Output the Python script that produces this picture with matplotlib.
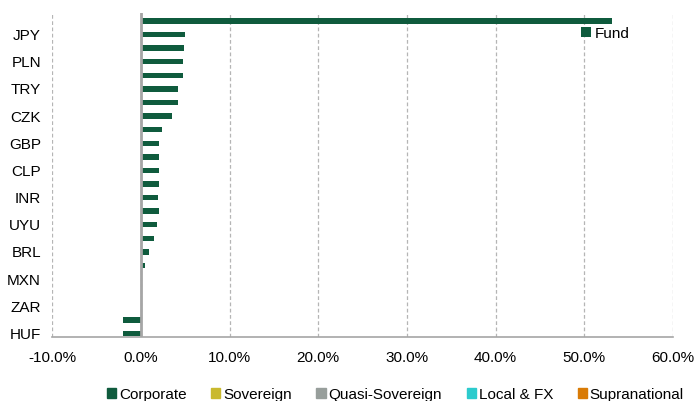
import numpy as np
import matplotlib
matplotlib.use('Agg')
from matplotlib import pyplot as plt
from matplotlib.patches import Patch

plt.rcParams['font.family'] = ['Liberation Sans', 'DejaVu Sans']

# 24 rows, only every other one carries a visible label
labels = ['', 'JPY', '', 'PLN', '', 'TRY', '', 'CZK', '', 'GBP', '', 'CLP',
          '', 'INR', '', 'UYU', '', 'BRL', '', 'MXN', '', 'ZAR', '', 'HUF']
fund = [53.1, 5.0, 4.85, 4.7, 4.7, 4.2, 4.2, 3.5, 2.4, 2.0, 2.0, 2.0,
        2.0, 1.95, 2.0, 1.8, 1.45, 0.95, 0.5, 0.1, 0.05, 0.02, -2.0, -2.0]

legend_names = ['Corporate', 'Sovereign', 'Quasi-Sovereign', 'Local & FX', 'Supranational']
legend_colors = ['#0f5b3d', '#c9b92e', '#979e9b', '#2ccbcd', '#d97b06']

green = '#0f5b3d'
fs = 11

fig = plt.figure(figsize=(6.96, 4.01), dpi=100)
ax = fig.add_axes([0.075, 0.16, 0.892, 0.808])

y = np.arange(len(fund))
ax.barh(y, fund, height=0.4, color=green, label='Fund', zorder=3)

ax.set_xlim(-10, 60)
ax.set_ylim(23.25, -0.6)
ax.set_xticks(np.arange(-10, 61, 10))
ax.set_xticklabels(['%.1f%%' % v for v in np.arange(-10, 61, 10)], fontsize=fs)
ax.set_yticks(y)
ax.set_yticklabels(labels, fontsize=fs)
ax.tick_params(length=0, pad=10)
ax.tick_params(axis='y', pad=8)

ax.grid(axis='x', linestyle=(0, (3, 2)), color='#b5b5b5', linewidth=0.9, zorder=0)
ax.axvline(0, color='#a6a6a6', linewidth=2, zorder=4)
for s in ['top', 'right', 'left']:
    ax.spines[s].set_visible(False)
ax.spines['bottom'].set_color('#a6a6a6')
ax.spines['bottom'].set_linewidth(1.2)

ax.legend(loc='upper right', bbox_to_anchor=(0.953, 1.0), frameon=False,
          fontsize=fs, handlelength=0.6, handleheight=0.6, handletextpad=0.3)

handles = [Patch(color=c, label=n) for n, c in zip(legend_names, legend_colors)]
fig.legend(handles=handles, loc='lower center', bbox_to_anchor=(0.568, -0.036), ncol=5,
           frameon=False, fontsize=fs, handlelength=0.6, handleheight=0.6,
           handletextpad=0.2, columnspacing=1.6)

fig.savefig('out.png', dpi=100)
